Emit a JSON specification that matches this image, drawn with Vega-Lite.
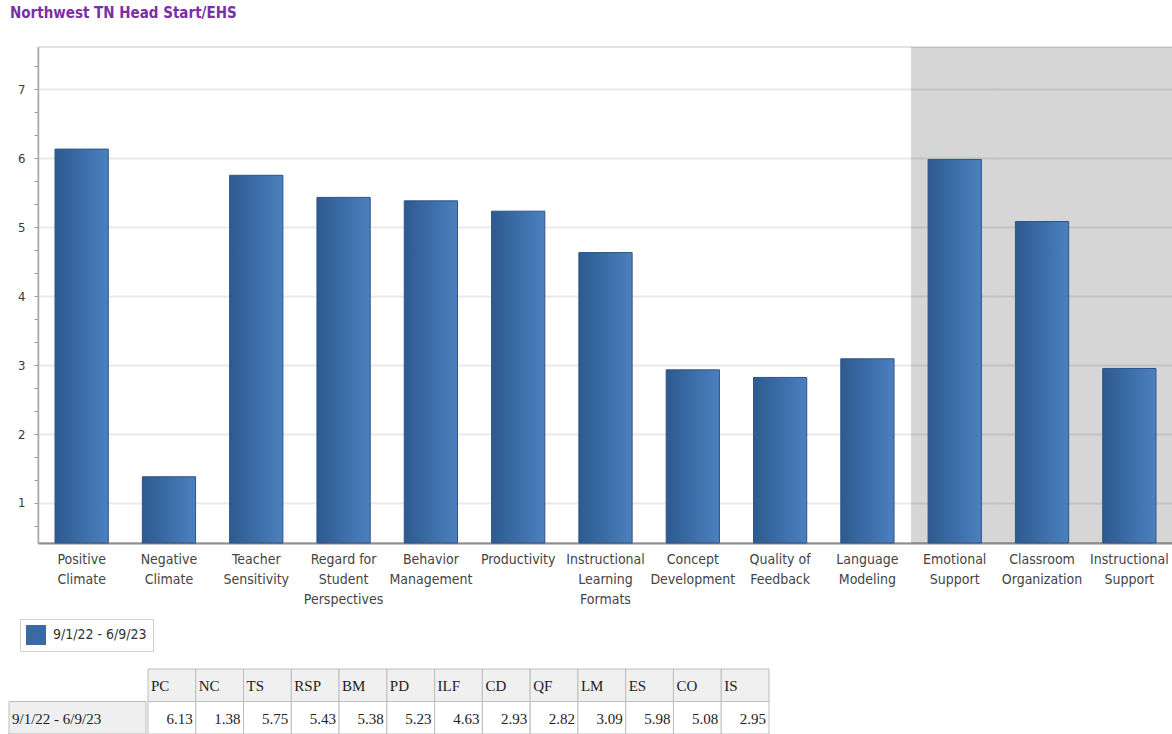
{
  "$schema": "https://vega.github.io/schema/vega-lite/v6.json",
  "background": "white",
  "padding": {"left": 8, "top": 6, "right": 0, "bottom": 0},
  "title": {
    "text": "Northwest TN Head Start/EHS",
    "anchor": "start",
    "color": "#7a2fa8",
    "font": "DejaVu Sans Condensed",
    "fontSize": 15,
    "fontWeight": "bold",
    "offset": 25,
    "dx": 2
  },
  "datasets": {
    "scores": [
      {"category": "Positive Climate", "abbr": "PC", "value": 6.13, "level": "Dimension", "period": "9/1/22 - 6/9/23"},
      {"category": "Negative Climate", "abbr": "NC", "value": 1.38, "level": "Dimension", "period": "9/1/22 - 6/9/23"},
      {"category": "Teacher Sensitivity", "abbr": "TS", "value": 5.75, "level": "Dimension", "period": "9/1/22 - 6/9/23"},
      {"category": "Regard for Student Perspectives", "abbr": "RSP", "value": 5.43, "level": "Dimension", "period": "9/1/22 - 6/9/23"},
      {"category": "Behavior Management", "abbr": "BM", "value": 5.38, "level": "Dimension", "period": "9/1/22 - 6/9/23"},
      {"category": "Productivity", "abbr": "PD", "value": 5.23, "level": "Dimension", "period": "9/1/22 - 6/9/23"},
      {"category": "Instructional Learning Formats", "abbr": "ILF", "value": 4.63, "level": "Dimension", "period": "9/1/22 - 6/9/23"},
      {"category": "Concept Development", "abbr": "CD", "value": 2.93, "level": "Dimension", "period": "9/1/22 - 6/9/23"},
      {"category": "Quality of Feedback", "abbr": "QF", "value": 2.82, "level": "Dimension", "period": "9/1/22 - 6/9/23"},
      {"category": "Language Modeling", "abbr": "LM", "value": 3.09, "level": "Dimension", "period": "9/1/22 - 6/9/23"},
      {"category": "Emotional Support", "abbr": "ES", "value": 5.98, "level": "Domain", "period": "9/1/22 - 6/9/23"},
      {"category": "Classroom Organization", "abbr": "CO", "value": 5.08, "level": "Domain", "period": "9/1/22 - 6/9/23"},
      {"category": "Instructional Support", "abbr": "IS", "value": 2.95, "level": "Domain", "period": "9/1/22 - 6/9/23"}
    ],
    "period": [{"period": "9/1/22 - 6/9/23"}]
  },
  "spacing": 61,
  "vconcat": [
    {
      "width": 1135,
      "height": 496,
      "data": {"name": "scores"},
      "view": {"stroke": "#e2e2e2", "strokeWidth": 2},
      "resolve": {"scale": {"x": "independent"}},
      "layer": [
        {
          "mark": {"type": "rect", "fill": "#000000"},
          "encoding": {
            "x": {"field": "category", "type": "nominal", "sort": null,
                  "scale": {"type": "band", "paddingInner": 0, "paddingOuter": 0}, "axis": null},
            "fillOpacity": {"condition": {"test": "datum.level == 'Domain'", "value": 0.16}, "value": 0}
          }
        },
        {
          "mark": {"type": "point", "shape": "square", "filled": true, "opacity": 1},
          "encoding": {
            "x": {"field": "category", "type": "nominal", "sort": null, "axis": null},
            "y": {"datum": 1, "type": "quantitative"},
            "color": {
              "field": "period", "type": "nominal",
              "scale": {"range": ["#3b69a4"]},
              "legend": {
                "title": null, "orient": "none", "legendX": -18, "legendY": 572,
                "strokeColor": "#cfcfcf", "fillColor": "white", "padding": 6,
                "symbolType": "square", "symbolSize": 400, "symbolStrokeWidth": 0,
                "labelFont": "DejaVu Sans Condensed", "labelFontSize": 14, "labelColor": "#333333", "labelOffset": 7
              }
            }
          }
        },
        {
          "mark": {
            "type": "bar", "stroke": "#2e5386", "strokeWidth": 1,
            "fill": {"gradient": "linear", "x1": 0, "y1": 0, "x2": 1, "y2": 0,
                     "stops": [{"offset": 0, "color": "#2d5a8f"}, {"offset": 1, "color": "#4b80bf"}]}
          },
          "encoding": {
            "x": {
              "field": "category", "type": "nominal", "sort": null,
              "scale": {"type": "band", "paddingInner": 0.39, "paddingOuter": 0.195},
              "axis": {
                "title": null, "ticks": false, "labelAngle": 0,
                "domainColor": "#8c8c8c", "domainWidth": 2,
                "labelFont": "DejaVu Sans Condensed", "labelFontSize": 14, "labelColor": "#444444",
                "labelPadding": 9, "labelLineHeight": 20, "labelLimit": 0, "labelBaseline": "top",
                "labelExpr": "datum.label == 'Regard for Student Perspectives' ? ['Regard for','Student','Perspectives'] : datum.label == 'Quality of Feedback' ? ['Quality of','Feedback'] : datum.label == 'Instructional Learning Formats' ? ['Instructional','Learning','Formats'] : split(datum.label, ' ')"
              }
            },
            "y": {
              "field": "value", "type": "quantitative",
              "scale": {"domain": [0.42, 7.61], "nice": false, "zero": false},
              "axis": {
                "title": null,
                "values": [0.6667, 1, 1.3333, 1.6667, 2, 2.3333, 2.6667, 3, 3.3333, 3.6667, 4, 4.3333, 4.6667, 5, 5.3333, 5.6667, 6, 6.3333, 6.6667, 7, 7.3333],
                "tickCount": 40,
                "format": ".0f",
                "labelOverlap": false,
                "labelExpr": "abs(datum.value - round(datum.value)) < 0.01 ? datum.label : ''",
                "grid": true, "gridColor": "#000000", "gridWidth": 2,
                "gridOpacity": {"condition": {"test": "abs(datum.value - round(datum.value)) < 0.01", "value": 0.09}, "value": 0},
                "tickSize": 4, "tickColor": "#9a9a9a",
                "domainColor": "#a8a8a8", "domainWidth": 1.5,
                "labelFont": "DejaVu Sans Condensed", "labelFontSize": 13, "labelColor": "#3a3a3a",
                "labelPadding": 9, "minExtent": 29, "maxExtent": 29
              }
            },
            "y2": {"datum": 0.42}
          }
        }
      ]
    },
    {
      "spacing": 0,
      "hconcat": [
        {
          "width": 108,
          "height": 65,
          "data": {"name": "period"},
          "view": {"stroke": null},
          "encoding": {
            "x": {"field": "period", "type": "nominal",
                  "scale": {"type": "band", "paddingInner": 0, "paddingOuter": 0, "range": [-29, 108]}, "axis": null}
          },
          "layer": [
            {
              "mark": {"type": "rect", "fill": "#efefef", "stroke": "#bdbdbd", "strokeWidth": 1},
              "encoding": {
                "y": {"datum": "data", "type": "nominal",
                      "scale": {"type": "band", "domain": ["header", "data"], "paddingInner": 0, "paddingOuter": 0}, "axis": null}
              }
            },
            {
              "mark": {"type": "text", "align": "left", "baseline": "middle", "dx": 3, "dy": 1, "font": "Liberation Serif", "fontSize": 15, "color": "#222222"},
              "encoding": {
                "x": {"field": "period", "type": "nominal", "bandPosition": 0},
                "y": {"datum": "data", "type": "nominal"},
                "text": {"field": "period"}
              }
            }
          ]
        },
        {
          "width": 621,
          "height": 65,
          "data": {"name": "scores"},
          "view": {"stroke": null},
          "encoding": {
            "x": {"field": "abbr", "type": "nominal", "sort": null,
                  "scale": {"type": "band", "paddingInner": 0, "paddingOuter": 0}, "axis": null}
          },
          "layer": [
            {
              "mark": {"type": "rect", "fill": "#f0f0f0", "stroke": "#bdbdbd", "strokeWidth": 1},
              "encoding": {
                "y": {"datum": "header", "type": "nominal",
                      "scale": {"type": "band", "domain": ["header", "data"], "paddingInner": 0, "paddingOuter": 0}, "axis": null}
              }
            },
            {
              "mark": {"type": "rect", "fill": "#ffffff", "stroke": "#bdbdbd", "strokeWidth": 1},
              "encoding": {"y": {"datum": "data", "type": "nominal"}}
            },
            {
              "mark": {"type": "text", "align": "left", "baseline": "middle", "dx": 3, "dy": 1, "font": "Liberation Serif", "fontSize": 15, "color": "#222222"},
              "encoding": {
                "x": {"field": "abbr", "type": "nominal", "sort": null, "bandPosition": 0},
                "y": {"datum": "header", "type": "nominal"},
                "text": {"field": "abbr"}
              }
            },
            {
              "mark": {"type": "text", "align": "right", "baseline": "middle", "dx": -3, "dy": 1, "font": "Liberation Serif", "fontSize": 15, "color": "#222222"},
              "encoding": {
                "x": {"field": "abbr", "type": "nominal", "sort": null, "bandPosition": 1},
                "y": {"datum": "data", "type": "nominal"},
                "text": {"field": "value", "type": "quantitative", "format": ".2f"}
              }
            }
          ]
        }
      ]
    }
  ]
}
